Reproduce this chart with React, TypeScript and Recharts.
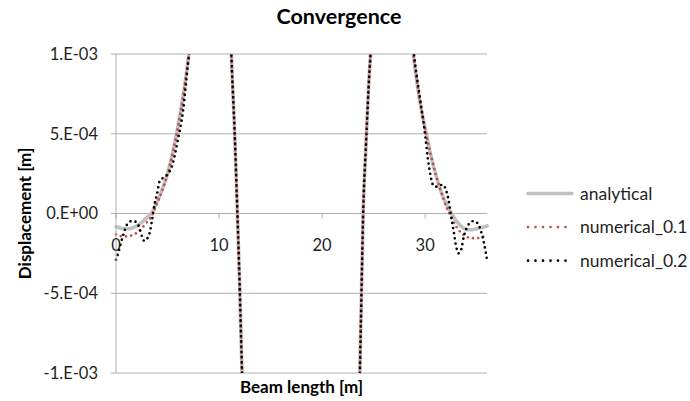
import {
  CartesianGrid,
  Line,
  LineChart,
  ReferenceDot,
  ReferenceLine,
  XAxis,
  YAxis,
} from "recharts";

const xTicks = [0, 10, 20, 30];
const yTicks = [-0.001, -0.0005, 0, 0.0005, 0.001];

// stations shared by the analytical curve and the 0.1 mesh
const coarseX = [
  0, 0.5, 1, 1.5, 2, 2.5, 3, 3.5, 4, 4.5, 5, 5.5, 6, 6.5, 7, 7.5,
  8, 8.5, 9, 9.5, 10, 10.5,
  11, 11.25, 11.5, 11.75, 12, 12.25, 12.5,
  13, 14, 15, 16, 17, 18, 19, 20, 21, 22, 23,
  23.5, 23.75, 24, 24.25, 24.5, 24.75, 25,
  25.5, 26, 26.5, 27, 27.5, 28, 28.5,
  29, 29.5, 30, 30.5, 31, 31.5, 32, 32.5, 33, 33.5, 34, 34.5, 35, 35.5, 36,
];

const analytical = [
  -8.3e-5, -9.2e-5, -9.6e-5, -9.2e-5, -7.8e-5, -5.5e-5, -2.5e-5, 8e-6, 7.5e-5, 1.55e-4, 2.5e-4, 3.8e-4, 5.4e-4, 7.3e-4, 9.6e-4, 1.22e-3,
  1.5e-3, 1.78e-3, 2.0e-3, 2.12e-3, 2.1e-3, 1.85e-3,
  1.35e-3, 9.0e-4, 5.3e-4, 6e-5, -4.5e-4, -1.05e-3, -1.6e-3,
  -2.7e-3, -4.5e-3, -6.0e-3, -7.0e-3, -7.5e-3, -7.6e-3, -7.5e-3, -7.0e-3, -6.0e-3, -4.5e-3, -2.6e-3,
  -1.5e-3, -7.2e-4, 4e-5, 4.2e-4, 7.8e-4, 1.05e-3, 1.3e-3,
  1.75e-3, 2.05e-3, 2.15e-3, 2.05e-3, 1.8e-3, 1.5e-3, 1.2e-3,
  9.2e-4, 7.0e-4, 5.3e-4, 3.8e-4, 2.5e-4, 1.45e-4, 6.5e-5, 5e-6, -4.5e-5, -8e-5, -1.0e-4, -1.02e-4, -9.5e-5, -8.8e-5, -7.8e-5,
];

const numerical01 = [
  -1.3e-4, -1.42e-4, -1.43e-4, -1.38e-4, -1.22e-4, -9.2e-5, -5.5e-5, -1.2e-5, 6.5e-5, 1.45e-4, 2.45e-4, 3.8e-4, 5.4e-4, 7.3e-4, 9.6e-4, 1.22e-3,
  1.5e-3, 1.78e-3, 2.0e-3, 2.12e-3, 2.1e-3, 1.85e-3,
  1.35e-3, 9.0e-4, 5.3e-4, 6e-5, -4.5e-4, -1.05e-3, -1.6e-3,
  -2.7e-3, -4.5e-3, -6.0e-3, -7.0e-3, -7.5e-3, -7.6e-3, -7.5e-3, -7.0e-3, -6.0e-3, -4.5e-3, -2.6e-3,
  -1.5e-3, -7.2e-4, 4e-5, 4.2e-4, 7.8e-4, 1.05e-3, 1.3e-3,
  1.75e-3, 2.05e-3, 2.15e-3, 2.05e-3, 1.8e-3, 1.5e-3, 1.2e-3,
  9.2e-4, 7.0e-4, 5.3e-4, 3.8e-4, 2.5e-4, 1.45e-4, 5e-5, -2e-5, -8e-5, -1.22e-4, -1.45e-4, -1.55e-4, -1.55e-4, -1.48e-4, -1.35e-4,
];

// the 0.2 mesh wiggles near the supports, so it gets denser stations there
const fineX = [
  0, 0.25, 0.5, 0.75, 1, 1.25, 1.5, 1.75, 2, 2.25, 2.5, 2.75, 3, 3.25, 3.5, 3.75, 4, 4.25, 4.5, 4.75, 5, 5.25, 5.5, 5.75, 6,
  6.5, 7, 7.5,
  8, 8.5, 9, 9.5, 10, 10.5,
  11, 11.25, 11.5, 11.75, 12, 12.25, 12.5,
  13, 14, 15, 16, 17, 18, 19, 20, 21, 22, 23,
  23.5, 23.75, 24, 24.25, 24.5, 24.75, 25,
  25.5, 26, 26.5, 27, 27.5, 28, 28.5,
  29, 29.5, 30,
  30.25, 30.5, 30.75, 31, 31.25, 31.5, 31.75, 32, 32.25, 32.5, 32.75, 33, 33.25, 33.5, 33.75, 34, 34.25, 34.5, 34.75, 35, 35.25, 35.5, 35.75, 36,
];

const numerical02 = [
  -2.9e-4, -2.4e-4, -1.8e-4, -1.25e-4, -7.8e-5, -5.5e-5, -4.8e-5, -4.8e-5, -5.8e-5, -8.5e-5, -1.4e-4, -1.72e-4, -1.6e-4, -1.25e-4, -4e-5, 6e-5, 1.3e-4, 2.05e-4, 2.2e-4, 2.3e-4, 2.45e-4, 2.7e-4, 3.1e-4, 3.8e-4, 4.6e-4,
  6.4e-4, 9.5e-4, 1.22e-3,
  1.5e-3, 1.78e-3, 2.0e-3, 2.12e-3, 2.1e-3, 1.85e-3,
  1.35e-3, 9.0e-4, 5.3e-4, 6e-5, -4.5e-4, -1.05e-3, -1.6e-3,
  -2.7e-3, -4.5e-3, -6.0e-3, -7.0e-3, -7.5e-3, -7.6e-3, -7.5e-3, -7.0e-3, -6.0e-3, -4.5e-3, -2.6e-3,
  -1.5e-3, -7.2e-4, 4e-5, 4.2e-4, 7.8e-4, 1.05e-3, 1.3e-3,
  1.75e-3, 2.05e-3, 2.15e-3, 2.05e-3, 1.8e-3, 1.5e-3, 1.25e-3,
  9.5e-4, 7.2e-4, 4.9e-4,
  3.5e-4, 2.45e-4, 1.8e-4, 1.68e-4, 1.7e-4, 1.78e-4, 1.8e-4, 1.5e-4, 9e-5, -1e-5, -1.05e-4, -2.05e-4, -2.5e-4, -2.25e-4, -1.45e-4, -9.5e-5, -6.5e-5, -5e-5, -4.8e-5, -5.5e-5, -8e-5, -1.3e-4, -2.0e-4, -2.9e-4,
];

const FONT = "Lato, 'Open Sans', sans-serif";
const GRID = "#b0b0b0";

const toPoints = (xs: number[], ys: number[]) =>
  xs.map((x, i) => ({ x, y: ys[i] }));

const series = [
  {
    name: "analytical",
    data: toPoints(coarseX, analytical),
    color: "#c0c0c0",
    width: 3.6,
    dash: undefined as string | undefined,
    legendDash: undefined as string | undefined,
  },
  {
    name: "numerical_0.1",
    data: toPoints(coarseX, numerical01),
    color: "#c0504d",
    width: 2.7,
    dash: "0 5.2",
    legendDash: "0 7.5",
  },
  {
    name: "numerical_0.2",
    data: toPoints(fineX, numerical02),
    color: "#000000",
    width: 2.7,
    dash: "0 5.2",
    legendDash: "0 7.5",
  },
];

// Excel-style "1.E-03" labels
const formatSci = (v: number) => {
  if (v === 0) return "0.E+00";
  const e = Math.floor(Math.log10(Math.abs(v)) + 1e-9);
  const m = Math.round(v / Math.pow(10, e));
  return `${m}.E${e < 0 ? "-" : "+"}${String(Math.abs(e)).padStart(2, "0")}`;
};

// category ticks sit on the zero line, not at the bottom of the plot
const XTick = ({ cx, cy, value }: { cx?: number; cy?: number; value: number }) => {
  if (cx == null || cy == null) return <g />;
  return (
    <g>
      <line x1={cx} y1={cy} x2={cx} y2={cy + 5} stroke={GRID} />
      <text
        x={cx}
        y={cy + 37}
        textAnchor="middle"
        fontSize={16.5}
        fontFamily={FONT}
        fill="#1f1f1f"
      >
        {value}
      </text>
    </g>
  );
};

export default function App() {
  return (
    <div style={{ position: "relative", width: 690, height: 401, background: "#fff" }}>
      <style>{"body{margin:0}"}</style>
      <LineChart
        width={690}
        height={401}
        margin={{ top: 54, right: 203, bottom: 0, left: 0 }}
      >
        <CartesianGrid vertical={false} stroke={GRID} />
        <XAxis
          type="number"
          dataKey="x"
          domain={[0, 36]}
          ticks={xTicks}
          height={28}
          tick={false}
          tickLine={false}
          axisLine={false}
          label={{
            value: "Beam length [m]",
            position: "insideBottom",
            offset: 8,
            fontSize: 17,
            fontWeight: 700,
            fontFamily: FONT,
            fill: "#000",
          }}
        />
        <YAxis
          type="number"
          domain={[-0.001, 0.001]}
          ticks={yTicks}
          allowDataOverflow
          width={116}
          tickFormatter={formatSci}
          tickSize={5}
          tickMargin={13}
          axisLine={{ stroke: GRID }}
          tickLine={{ stroke: GRID }}
          tick={{ fontSize: 16.5, fontFamily: FONT, fill: "#1f1f1f" }}
          label={{
            value: "Displacement [m]",
            angle: -90,
            position: "insideLeft",
            offset: 25,
            style: { textAnchor: "middle" },
            fontSize: 17,
            fontWeight: 700,
            fontFamily: FONT,
            fill: "#000",
          }}
        />
        <ReferenceLine y={0} stroke={GRID} />
        {xTicks.map((t) => (
          <ReferenceDot
            key={t}
            x={t}
            y={0}
            r={0}
            shape={(p: any) => <XTick cx={p.cx} cy={p.cy} value={t} />}
          />
        ))}
        {series.map((s) => (
          <Line
            key={s.name}
            data={s.data}
            dataKey="y"
            name={s.name}
            type="monotone"
            stroke={s.color}
            strokeWidth={s.width}
            strokeDasharray={s.dash}
            strokeLinecap="round"
            dot={false}
            activeDot={false}
            isAnimationActive={false}
          />
        ))}
      </LineChart>
      <svg
        width={690}
        height={401}
        style={{ position: "absolute", left: 0, top: 0, pointerEvents: "none" }}
      >
        <text
          x={339}
          y={23.5}
          textAnchor="middle"
          fontSize={21.5}
          fontWeight={700}
          fontFamily={FONT}
          fill="#000"
        >
          Convergence
        </text>
        {series.map((s, i) => {
          const cy = 193.5 + i * 33.6;
          return (
            <g key={s.name}>
              <line
                x1={528}
                y1={cy}
                x2={572}
                y2={cy}
                stroke={s.color}
                strokeWidth={s.dash ? 2.7 : 3.6}
                strokeDasharray={s.legendDash}
                strokeLinecap="round"
              />
              <text
                x={580}
                y={cy + 6}
                fontSize={17.5}
                fontFamily={FONT}
                fill="#1f1f1f"
              >
                {s.name}
              </text>
            </g>
          );
        })}
      </svg>
    </div>
  );
}
